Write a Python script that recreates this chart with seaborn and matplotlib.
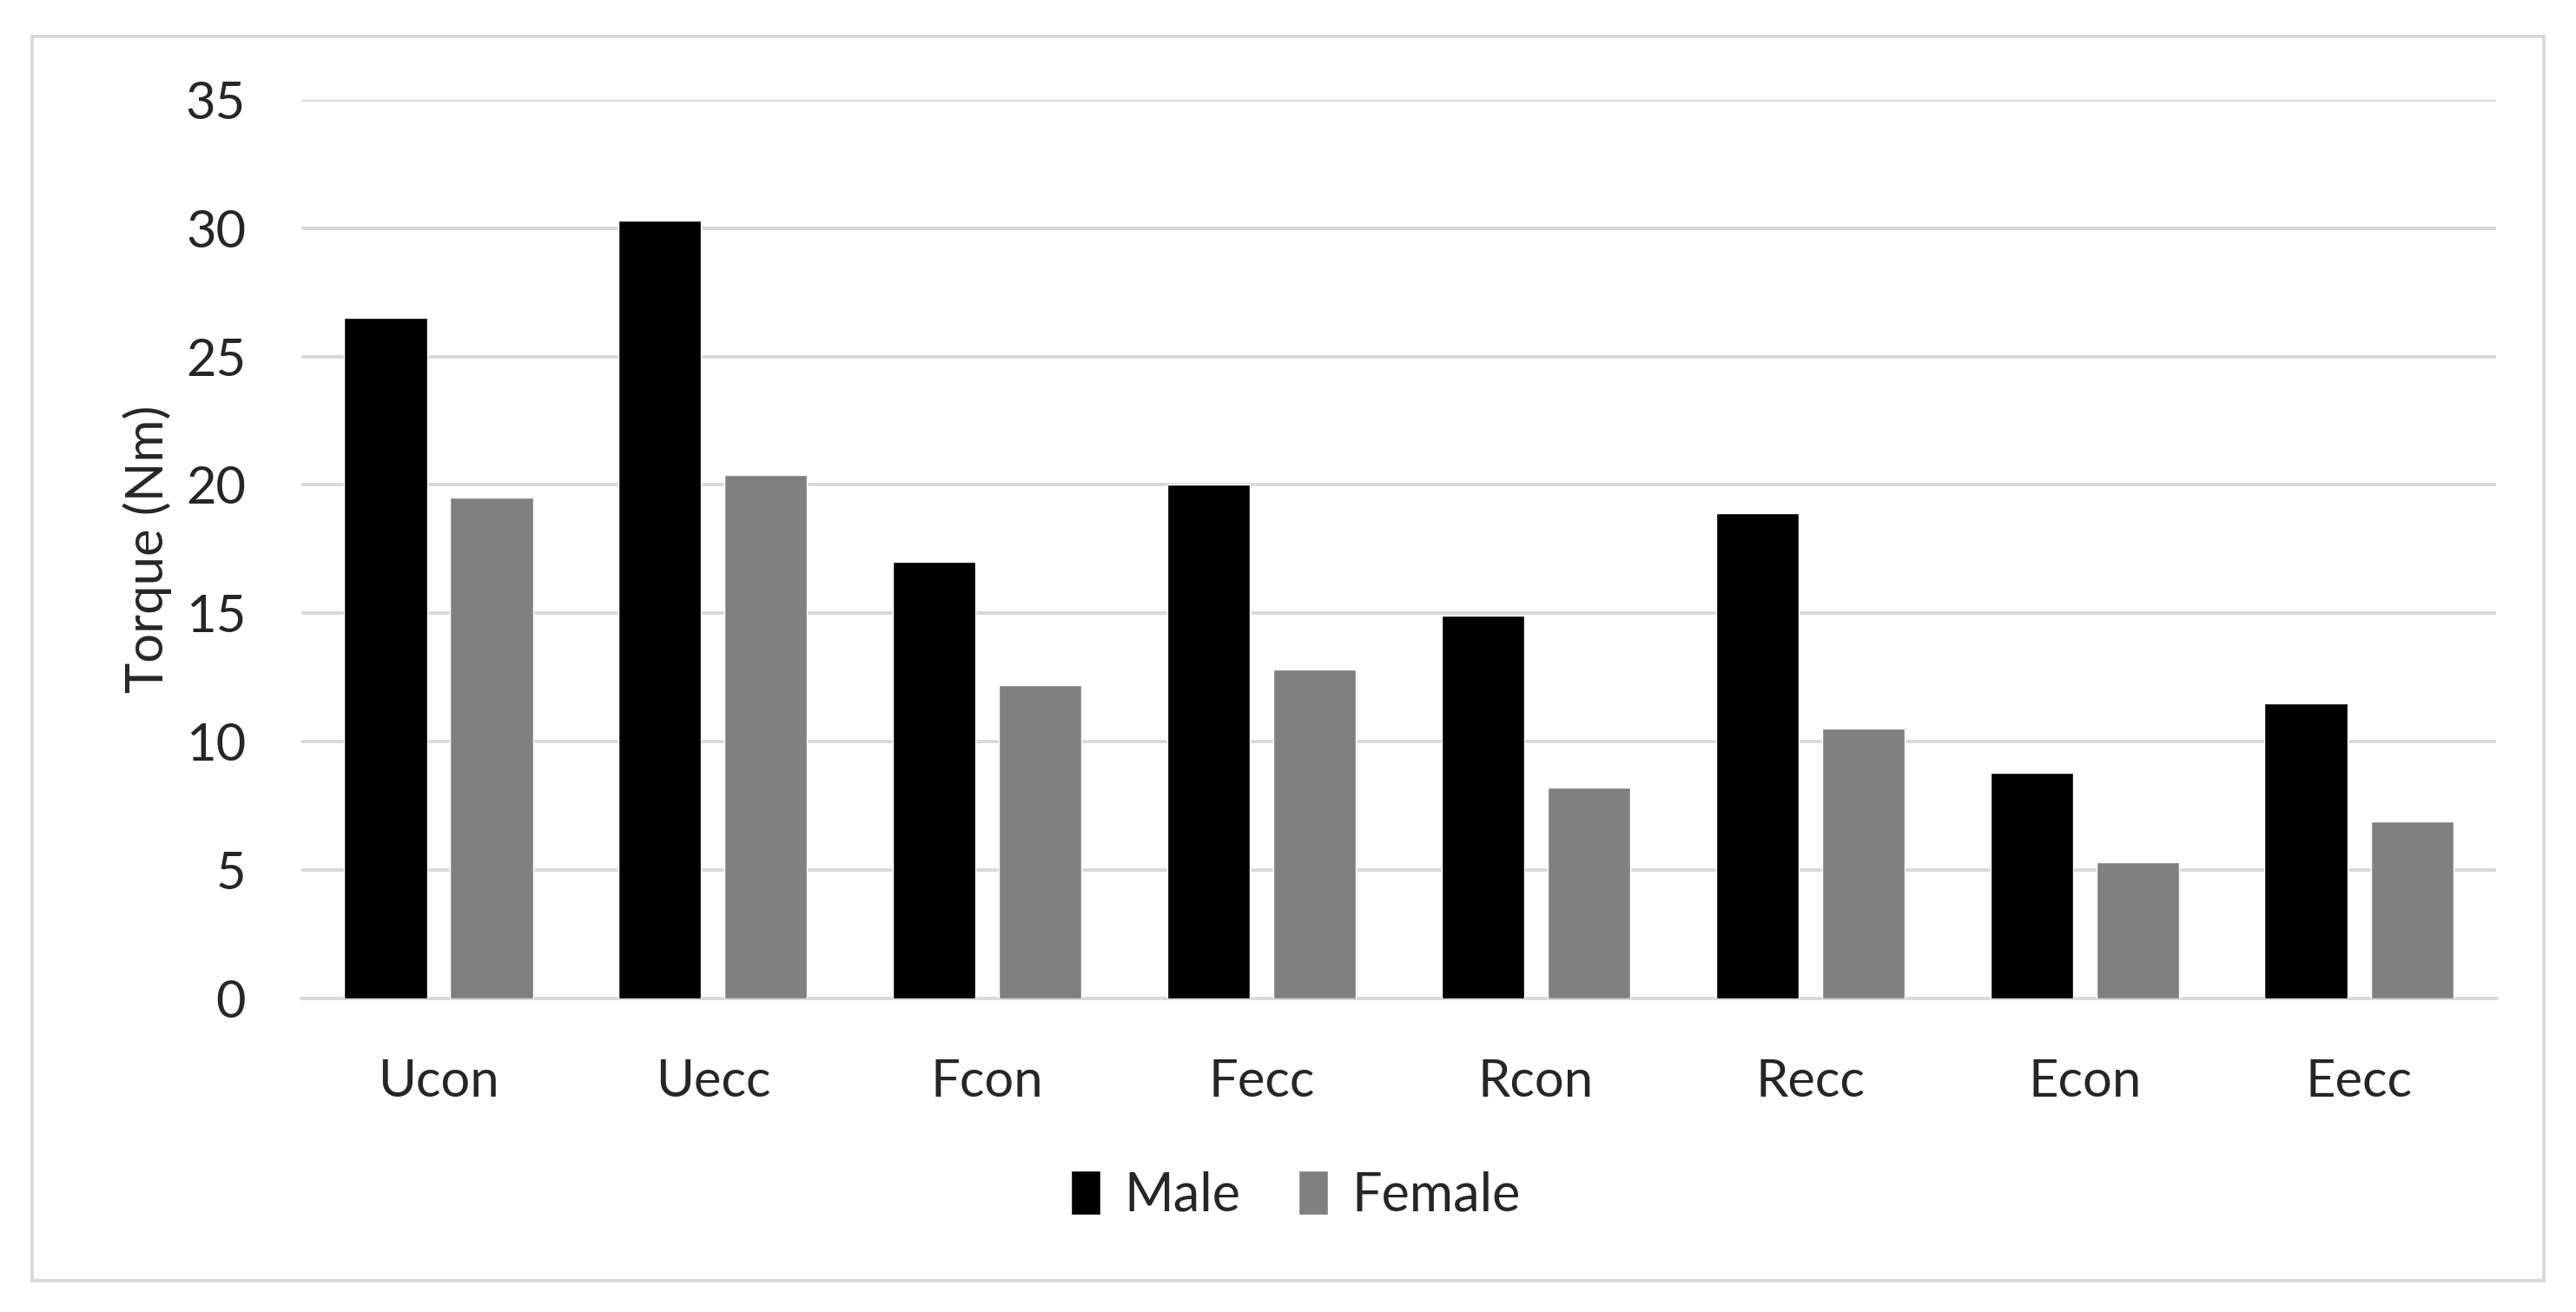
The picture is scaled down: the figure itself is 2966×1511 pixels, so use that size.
import matplotlib
matplotlib.use("Agg")
import matplotlib.pyplot as plt
import pandas as pd
import seaborn as sns
from matplotlib.patches import Rectangle

# values
categories = ["Ucon", "Uecc", "Fcon", "Fecc", "Rcon", "Recc", "Econ", "Eecc"]
male = [26.5, 30.3, 17.0, 20.0, 14.9, 18.9, 8.8, 11.5]
female = [19.5, 20.4, 12.2, 12.8, 8.2, 10.5, 5.3, 6.9]
groups = ["Male", "Female"]
colors = {"Male": "#000000", "Female": "#808080"}

df = pd.DataFrame({
    "test": categories * 2,
    "torque": male + female,
    "sex": ["Male"] * len(categories) + ["Female"] * len(categories),
})

sns.set_theme(style="white")
plt.rcParams["font.family"] = ["Lato", "DejaVu Sans"]

fig = plt.figure(figsize=(29.66, 15.11), dpi=100)
ax = fig.add_axes([0.117, 0.239, 0.852, 0.685])

sns.barplot(
    data=df, x="test", y="torque", hue="sex",
    order=categories, hue_order=groups, palette=colors,
    width=0.773, gap=0.22, errorbar=None, saturation=1,
    ax=ax, zorder=3,
)

ax.set_ylim(0, 35)
ax.set_yticks(range(0, 36, 5))
ax.yaxis.grid(True, color="#d9d9d9", linewidth=2.8, zorder=0)
ax.set_axisbelow(True)
for side in ["top", "right", "left"]:
    ax.spines[side].set_visible(False)
ax.spines["bottom"].set_color("#d9d9d9")
ax.spines["bottom"].set_linewidth(2.8)

ax.tick_params(axis="y", length=0, pad=46, labelsize=43)
ax.tick_params(axis="x", length=0, pad=50, labelsize=43)
ax.set_xlabel("")
ax.set_ylabel("Torque (Nm)", fontsize=43)
ax.yaxis.set_label_coords(-0.059, 0.5)

handles, labels = ax.get_legend_handles_labels()
ax.get_legend().remove()
fig.legend(
    handles, labels, loc="center", bbox_to_anchor=(0.503, 0.089), ncol=2,
    frameon=False, fontsize=44, handlelength=0.55, handleheight=0.9,
    handletextpad=0.45, columnspacing=1.1,
)

# light grey chart border like the original
fig.patches.append(Rectangle(
    (0.0125, 0.024), 0.975, 0.948, transform=fig.transFigure,
    fill=False, edgecolor="#d9d9d9", linewidth=2.8,
))

fig.savefig("out.png", dpi=100, facecolor="white")
